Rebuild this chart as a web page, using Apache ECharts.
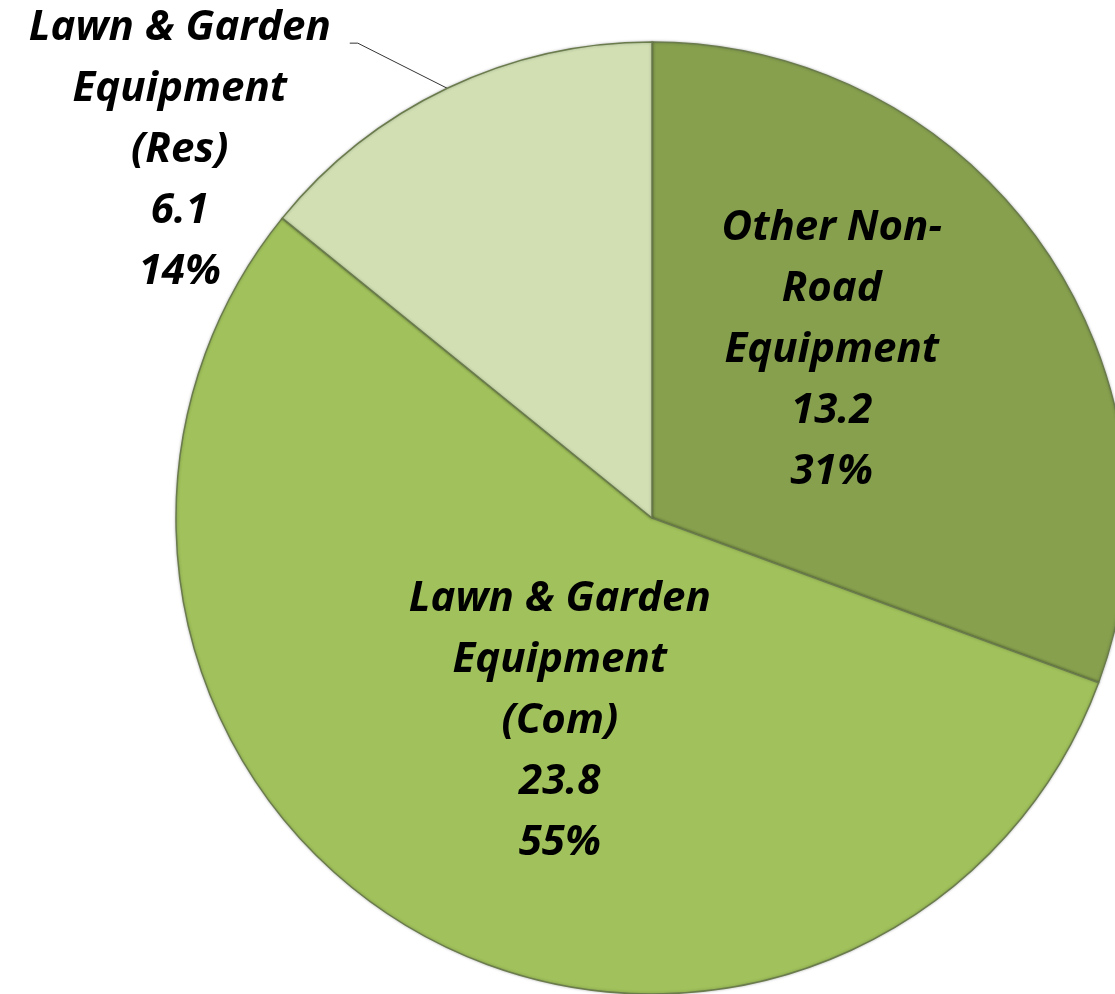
<!DOCTYPE html>
<html lang="en">
<head>
    <meta charset="UTF-8">
    <title>Non-road equipment</title>
    <script src="https://cdn.jsdelivr.net/npm/echarts@6/dist/echarts.min.js"></script>
    <style>
        html, body { margin: 0; padding: 0; background: #fff; }
        #main { width: 1115px; height: 994px; }
    </style>
</head>
<body>
    <div id="main"></div>
    <script type="text/javascript">
        // slice names (line breaks as in the picture), values, colours
        const names = ['Other Non-\nRoad\nEquipment', 'Lawn & Garden\nEquipment\n(Com)', 'Lawn & Garden\nEquipment\n(Res)'];
        const values = [13.2, 23.8, 6.1];
        const colors = ['#86a04e', '#a0c15b', '#d1dfb3'];

        const font = {
            fontFamily: 'Open Sans',
            fontWeight: 'bold',
            fontStyle: 'italic',
            fontSize: 42,
            lineHeight: 61,
            color: '#000'
        };

        // per-slice label tweaks
        const labelOpts = [
            { position: 'inside', padding: [0, 36, 60, 0] },
            { position: 'inside', padding: [0, 0, 12, 54] },
            { position: 'outside', padding: [214, 0, 0, 0] }
        ];

        const chart = echarts.init(document.getElementById('main'));
        const option = {
            animation: false,
            series: [{
                type: 'pie',
                center: [652, 518],
                radius: 476,
                startAngle: 90,
                clockwise: true,
                avoidLabelOverlap: false,
                emphasis: { disabled: true },
                itemStyle: {
                    borderColor: '#6a7b4c',
                    borderWidth: 1.5,
                    shadowBlur: 3,
                    shadowColor: 'rgba(0,0,0,0.25)'
                },
                label: {
                    formatter: function (p) {
                        return '{t|' + p.name + '\n' + p.value + '\n' + Math.round(p.percent) + '%}';
                    },
                    rich: {
                        t: Object.assign({ width: 330, align: 'center' }, font)
                    }
                },
                labelLine: {
                    show: true,
                    length: 50,
                    length2: 76,
                    lineStyle: { color: '#333', width: 1 }
                },
                labelLayout: function (p) {
                    // straight leader from the arc to the label, short flat end
                    const pts = p.labelLinePoints;
                    if (!pts) return {};
                    const end = pts[2];
                    return { labelLinePoints: [pts[0], [end[0] + 8, end[1]], end] };
                },
                data: names.map(function (n, i) {
                    return {
                        name: n,
                        value: values[i],
                        itemStyle: { color: colors[i] },
                        label: labelOpts[i],
                        labelLine: { show: labelOpts[i].position === 'outside' }
                    };
                })
            }]
        };
        chart.setOption(option);
    </script>
</body>
</html>
